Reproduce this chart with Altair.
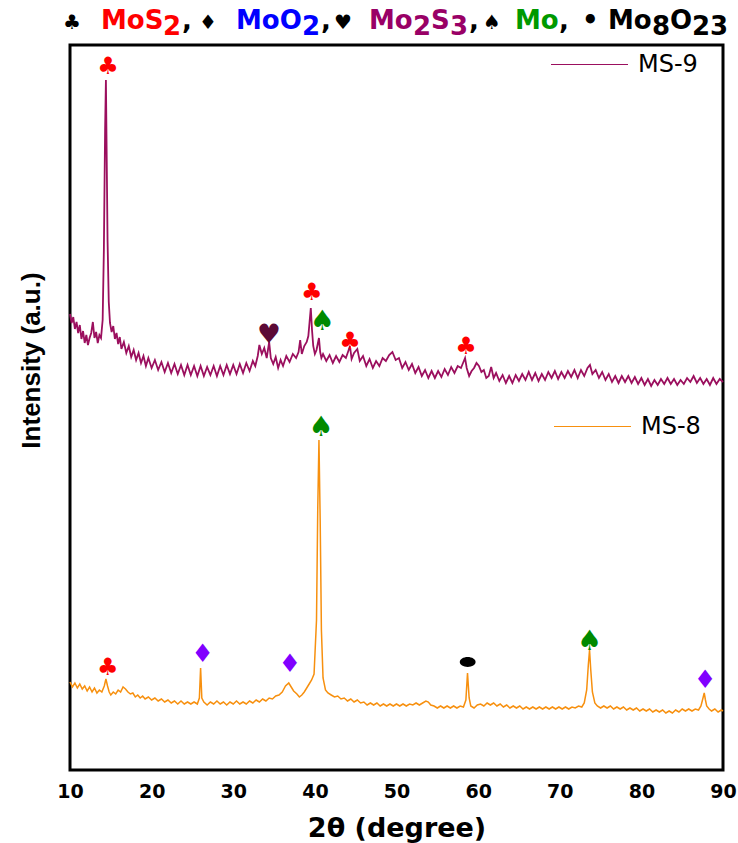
import altair as alt
import pandas as pd

# ---------------- data ----------------
ms9_theta = [10.0, 10.2, 10.4, 10.6, 10.8, 11.0, 11.2, 11.4, 11.6, 11.8, 12.0, 12.2, 12.4, 12.6, 12.8, 13.0, 13.2, 13.4, 13.6, 13.8,
             14.0, 14.15, 14.3, 14.4, 14.5, 14.6, 14.75, 14.9, 15.1, 15.3, 15.5, 15.7, 15.9, 16.1, 16.3, 16.6, 16.9, 17.2, 17.5, 17.8,
             18.1, 18.4, 18.7, 19.0, 19.3, 19.6, 20.0, 20.4, 20.8, 21.2, 21.6, 22.0, 22.4, 22.8, 23.2, 23.6, 24.0, 24.4, 24.8, 25.2,
             25.6, 26.0, 26.4, 26.8, 27.2, 27.6, 28.0, 28.4, 28.8, 29.2, 29.6, 30.0, 30.4, 30.8, 31.2, 31.6, 32.0, 32.4, 32.7, 33.0,
             33.2, 33.5, 33.8, 34.1, 34.4, 34.6, 34.9, 35.2, 35.5, 35.8, 36.1, 36.5, 36.9, 37.3, 37.7, 38.0, 38.2, 38.4, 38.7, 39.0,
             39.2, 39.35, 39.5, 39.65, 39.8, 40.0, 40.2, 40.35, 40.5, 40.65, 40.8, 41.0, 41.4, 41.8, 42.2, 42.6, 43.0, 43.4, 43.8, 44.1,
             44.3, 44.5, 44.8, 45.2, 45.5, 45.9, 46.3, 46.7, 47.1, 47.5, 47.9, 48.3, 48.7, 49.1, 49.5, 49.9, 50.3, 50.7, 51.1, 51.5,
             51.9, 52.3, 52.7, 53.1, 53.5, 53.9, 54.3, 54.7, 55.1, 55.5, 55.9, 56.3, 56.7, 57.1, 57.5, 57.9, 58.2, 58.4, 58.6, 58.9,
             59.2, 59.5, 59.8, 60.1, 60.4, 60.7, 61.0, 61.3, 61.6, 61.9, 62.2, 62.6, 63.0, 63.4, 63.8, 64.2, 64.6, 65.0, 65.4, 65.8,
             66.2, 66.6, 67.0, 67.4, 67.8, 68.2, 68.6, 69.0, 69.4, 69.8, 70.2, 70.6, 71.0, 71.4, 71.8, 72.2, 72.6, 73.0, 73.4, 73.7,
             74.0, 74.4, 74.8, 75.2, 75.6, 76.0, 76.4, 76.8, 77.2, 77.6, 78.0, 78.4, 78.8, 79.2, 79.6, 80.0, 80.4, 80.8, 81.2, 81.6,
             82.0, 82.4, 82.8, 83.2, 83.6, 84.0, 84.4, 84.8, 85.2, 85.6, 86.0, 86.4, 86.8, 87.2, 87.6, 88.0, 88.4, 88.8, 89.2, 89.6,
             90.0]
ms9_int = [456, 447, 453, 441, 448, 437, 445, 431, 439, 427, 435, 425, 432, 437, 448, 432, 438, 427, 435, 432,
           450, 520, 640, 690, 610, 530, 468, 447, 438, 444, 431, 437, 426, 433, 421, 428, 417, 424, 413, 420,
           410, 417, 407, 414, 404, 412, 402, 410, 400, 408, 398, 407, 397, 406, 396, 405, 395, 405, 395, 404,
           394, 404, 394, 403, 395, 404, 394, 404, 395, 405, 396, 405, 396, 406, 397, 407, 399, 409, 404, 414,
           425, 416, 422, 412, 428, 412, 406, 413, 402, 410, 404, 414, 408, 416, 412, 418, 430, 416, 424, 428,
           434, 448, 462, 440, 424, 416, 420, 426, 432, 418, 412, 416, 409, 415, 407, 414, 408, 415, 412, 419,
           424, 411, 417, 421, 409, 414, 404, 411, 402, 409, 404, 412, 409, 415, 418, 410, 412, 402, 408, 400,
           406, 397, 403, 394, 400, 392, 399, 392, 399, 393, 401, 395, 403, 397, 404, 402, 408, 412, 402, 394,
           399, 402, 407, 404, 398, 400, 392, 394, 403, 392, 397, 389, 395, 387, 394, 387, 395, 389, 396, 390,
           398, 390, 397, 389, 396, 390, 398, 392, 399, 391, 398, 392, 399, 393, 400, 392, 400, 394, 402, 405,
           396, 400, 392, 398, 390, 396, 388, 394, 387, 394, 388, 394, 387, 393, 386, 392, 385, 391, 384, 390,
           385, 391, 386, 392, 386, 391, 385, 390, 386, 392, 388, 394, 387, 392, 386, 391, 385, 392, 386, 391,
           388]

ms8_theta = [10.0, 10.3, 10.6, 10.9, 11.2, 11.5, 11.8, 12.1, 12.4, 12.7, 13.0, 13.3, 13.6, 13.9, 14.2, 14.4, 14.6, 14.8, 15.0, 15.3,
             15.6, 15.9, 16.2, 16.5, 16.8, 17.1, 17.4, 17.7, 18.0, 18.3, 18.6, 18.9, 19.2, 19.6, 20.0, 20.4, 20.8, 21.2, 21.6, 22.0,
             22.4, 22.8, 23.2, 23.6, 24.0, 24.4, 24.8, 25.2, 25.6, 25.85, 26.0, 26.15, 26.4, 26.8, 27.2, 27.6, 28.0, 28.4, 28.8, 29.2,
             29.6, 30.0, 30.4, 30.8, 31.2, 31.6, 32.0, 32.4, 32.8, 33.2, 33.6, 34.0, 34.4, 34.8, 35.2, 35.6, 36.0, 36.4, 36.8, 37.1,
             37.4, 37.8, 38.1, 38.4, 38.7, 39.0, 39.3, 39.6, 39.9, 40.2, 40.35, 40.5, 40.65, 40.8, 41.0, 41.3, 41.6, 42.0, 42.4, 42.8,
             43.2, 43.6, 44.0, 44.4, 44.8, 45.2, 45.6, 46.0, 46.4, 46.8, 47.2, 47.6, 48.0, 48.4, 48.8, 49.2, 49.6, 50.0, 50.4, 50.8,
             51.2, 51.6, 52.0, 52.4, 52.8, 53.2, 53.6, 53.9, 54.2, 54.6, 55.0, 55.4, 55.8, 56.2, 56.6, 57.0, 57.4, 57.8, 58.2, 58.5,
             58.7, 58.9, 59.1, 59.5, 59.9, 60.3, 60.7, 61.1, 61.5, 61.9, 62.3, 62.7, 63.1, 63.5, 63.9, 64.3, 64.7, 65.1, 65.5, 65.9,
             66.3, 66.7, 67.1, 67.5, 67.9, 68.3, 68.7, 69.1, 69.5, 69.9, 70.3, 70.7, 71.1, 71.5, 71.9, 72.3, 72.7, 73.0, 73.3, 73.5,
             73.65, 73.8, 74.0, 74.3, 74.6, 75.0, 75.4, 75.8, 76.2, 76.6, 77.0, 77.4, 77.8, 78.2, 78.6, 79.0, 79.4, 79.8, 80.2, 80.6,
             81.0, 81.4, 81.8, 82.2, 82.6, 83.0, 83.4, 83.8, 84.2, 84.6, 85.0, 85.4, 85.8, 86.2, 86.6, 87.0, 87.3, 87.55, 87.7, 87.85,
             88.0, 88.3, 88.6, 89.0, 89.4, 89.8, 90.0]
ms8_int = [88, 83, 87, 82, 86, 81, 84, 79, 83, 78, 82, 77, 80, 78, 84, 91, 84, 78, 75, 78,
           76, 80, 78, 83, 81, 78, 76, 77, 73, 75, 72, 74, 71, 73, 70, 72, 69, 71, 68, 70,
           67, 69, 66, 69, 66, 68, 66, 68, 66, 72, 102, 72, 68, 65, 68, 66, 69, 66, 68, 65,
           68, 66, 69, 66, 68, 66, 69, 67, 70, 68, 71, 69, 72, 71, 74, 75, 78, 84, 87, 83,
           79, 76, 73, 75, 78, 82, 86, 90, 96, 150, 260, 330, 250, 140, 92, 80, 77, 75, 73, 74,
           71, 72, 69, 71, 68, 70, 67, 68, 65, 67, 65, 67, 64, 66, 64, 66, 64, 66, 64, 66,
           64, 66, 65, 67, 65, 67, 69, 68, 65, 64, 62, 64, 62, 64, 62, 64, 62, 64, 63, 70,
           97, 72, 64, 62, 65, 66, 64, 67, 65, 67, 64, 66, 63, 65, 62, 64, 62, 64, 61, 63,
           61, 63, 61, 63, 61, 63, 61, 63, 61, 63, 61, 63, 61, 63, 62, 64, 63, 67, 80, 105,
           120, 100, 78, 67, 64, 62, 64, 62, 64, 61, 63, 61, 63, 60, 62, 60, 62, 59, 61, 59,
           61, 58, 60, 58, 60, 57, 59, 57, 60, 58, 61, 59, 61, 59, 61, 60, 64, 72, 77, 70,
           64, 61, 59, 61, 58, 60, 59]

# phase markers above the peaks (card-suit glyphs)
mark_kind = ["club", "heart", "club", "spade", "club", "club",
             "club", "diamond", "diamond", "spade", "spade", "diamond"]
mark_theta = [14.66, 34.38, 39.62, 40.90, 44.30, 58.51,
              14.61, 26.26, 36.95, 40.75, 73.66, 87.80]
mark_int = [703, 435, 477, 448, 428, 423,
            102, 116, 106, 342, 128, 90]

# Mo8O23 marker (black dot)
dot_theta = [58.72]
dot_int = [108]

x_ticks = [10, 20, 30, 40, 50, 60, 70, 80, 90]

# ---------------- styling ----------------
C9 = "#9b0f5e"
C8 = "#f7900f"
glyph = {"club": "\u2663", "diamond": "\u2666", "heart": "\u2665", "spade": "\u2660"}
kind_dom = ["club", "diamond", "heart", "spade"]
kind_col = ["#ff0000", "#8000ff", "#5c0a36", "#008a00"]
kind_size = [24, 28, 27, 23]

xs = alt.Scale(domain=[10, 90], nice=False, zero=False)
ys = alt.Scale(domain=[0, 725], nice=False, zero=False)
xax = alt.Axis(values=x_ticks, title="2\u03b8 (degree)", ticks=False, domain=False, grid=False,
               labelFont="DejaVu Sans", labelFontWeight="bold", labelFontSize=19, labelColor="black",
               labelPadding=12, labelFlush=False, labelOverlap=False,
               titleFont="DejaVu Sans", titleFontWeight="bold", titleFontSize=27, titleColor="black",
               titlePadding=14)
yax = alt.Axis(labels=False, ticks=False, domain=False, grid=False, title="Intensity (a.u.)",
               titleFont="Liberation Sans", titleFontWeight="bold", titleFontSize=26, titleColor="black",
               titlePadding=26, titleY=315)

df9 = pd.DataFrame({"theta": ms9_theta, "inten": ms9_int, "series": "MS-9"})
df8 = pd.DataFrame({"theta": ms8_theta, "inten": ms8_int, "series": "MS-8"})
dfm = pd.DataFrame({"theta": mark_theta, "inten": mark_int, "kind": mark_kind})
dfm["g"] = dfm["kind"].map(glyph)
dfd = pd.DataFrame({"theta": dot_theta, "inten": dot_int})


def leg(x, y):
    return alt.Legend(orient="none", legendX=x, legendY=y, title=None, symbolType="stroke",
                      symbolSize=5929, symbolStrokeWidth=1.2, labelFont="DejaVu Sans",
                      labelFontSize=24, labelColor="black", labelOffset=9, padding=0)


line9 = alt.Chart(df9).mark_line(strokeWidth=1.8).encode(
    x=alt.X("theta:Q", scale=xs, axis=xax),
    y=alt.Y("inten:Q", scale=ys, axis=yax),
    color=alt.Color("series:N", scale=alt.Scale(domain=["MS-9"], range=[C9]), legend=leg(480, -20)),
)
line8 = alt.Chart(df8).mark_line(strokeWidth=1.5).encode(
    x=alt.X("theta:Q", scale=xs, axis=xax),
    y=alt.Y("inten:Q", scale=ys, axis=yax),
    color=alt.Color("series:N", scale=alt.Scale(domain=["MS-8"], range=[C8]), legend=leg(483, 342)),
)
marks = alt.Chart(dfm).mark_text(font="DejaVu Sans", align="center", baseline="middle").encode(
    x=alt.X("theta:Q", scale=xs, axis=xax),
    y=alt.Y("inten:Q", scale=ys, axis=yax),
    text="g:N",
    color=alt.Color("kind:N", scale=alt.Scale(domain=kind_dom, range=kind_col), legend=None),
    size=alt.Size("kind:N", scale=alt.Scale(domain=kind_dom, range=kind_size), legend=None),
)
dot = alt.Chart(dfd).mark_point(
    shape="M-1,0A1,0.62 0 1,0 1,0A1,0.62 0 1,0 -1,0Z", filled=True, color="black", opacity=1, size=250
).encode(
    x=alt.X("theta:Q", scale=xs, axis=xax),
    y=alt.Y("inten:Q", scale=ys, axis=yax),
)

# ---------------- composite header text (left-aligned runs) ----------------
title_txt = ["\u2663", "MoS", "2", ",", "\u2666", "MoO", "2", ",", "\u2665", "Mo", "2", "S", "3", ",",
             "\u2660", "Mo", ",", "\u2022", "Mo", "8", "O", "23"]
title_col = ["black", "red", "red", "black", "black", "blue", "blue", "black", "black", "maroon", "maroon",
             "maroon", "maroon", "black", "black", "green", "black", "black", "black", "black", "black", "black"]
title_sub = [0, 0, 1, 0, 0, 0, 1, 0, 0, 0, 1, 0, 1, 0, 0, 0, 0, 0, 0, 1, 0, 1]
title_x = [-7, 31, 93, 112, 129, 166, 232, 251, 264, 299, 343, 361, 380, 399,
           413, 445, 489, 512, 538, 582, 600, 622]
palette = {"black": "#000000", "red": "#ff0000", "blue": "#0000ff", "maroon": "#990066", "green": "#009900"}

layers = [line9, line8, marks, dot]
for t, c, s, px in zip(title_txt, title_col, title_sub, title_x):
    sym = t in ("\u2663", "\u2666", "\u2665", "\u2660")
    layers.append(
        alt.Chart(pd.DataFrame({"t": [t]})).mark_text(
            font="DejaVu Sans", fontWeight="bold", fontSize=20 if sym else 26,
            align="left", baseline="alphabetic", color=palette[c]
        ).encode(x=alt.value(px), y=alt.value(-10 if s else -16), text="t:N")
    )

chart = alt.layer(*layers).resolve_scale(color="independent", size="independent").properties(
    width=653, height=725, autosize="none",
    padding={"left": 70, "top": 45, "right": 15, "bottom": 73},
    background="white",
).configure_view(stroke="black", strokeWidth=3)

chart.save("out.html", embed_options={"renderer": "svg", "actions": False})
